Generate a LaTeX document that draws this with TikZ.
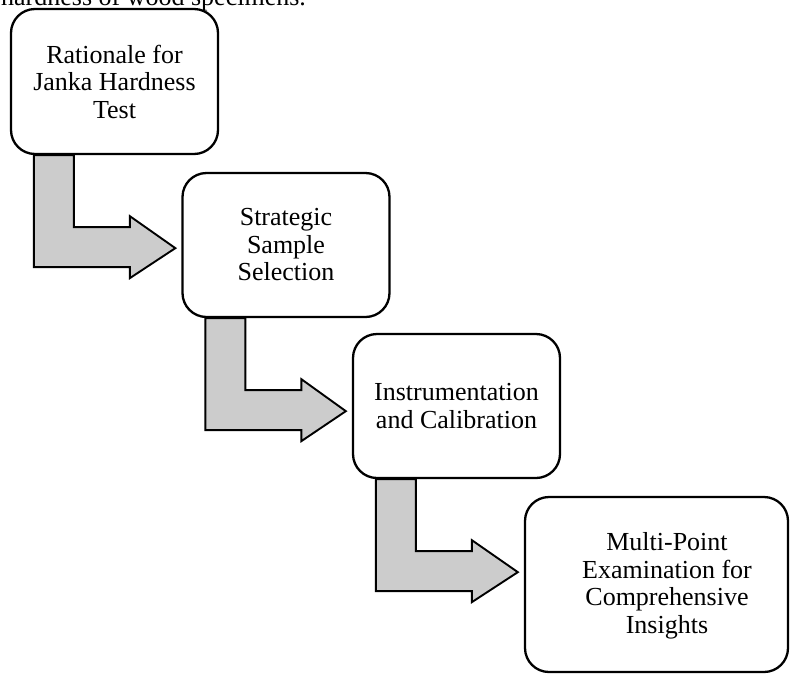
\documentclass[tikz,border=0pt]{standalone}
\usepackage{fontspec}
\setmainfont{Liberation Serif}
\usetikzlibrary{calc}
\tikzset{
  stepnode/.style={draw=black, line width=2.3pt, rounded corners=24pt, fill=white,
    align=center, inner sep=0pt, font=\fontsize{26}{27.5}\selectfont},
  txtnode/.style={align=center, inner sep=0pt, font=\fontsize{26}{27.5}\selectfont},
  bentarrow/.style={draw=black, line width=1.9pt, fill=black!20, line join=miter}
}
\begin{document}
\begin{tikzpicture}[x=1pt,y=-1pt]
\useasboundingbox (0,0) rectangle (790,673);
\node[anchor=base west, inner sep=0pt, font=\fontsize{26}{27.5}\selectfont] (cap) at (1,5) {hardness of wood specimens.};
\node[stepnode, minimum width=207pt, minimum height=145pt] (b1) at (114.5,81.5) {Rationale for\\Janka Hardness\\Test};
\node[stepnode, minimum width=207pt, minimum height=144pt] (b2) at (286,245) {Strategic\\Sample\\Selection};
\node[stepnode, minimum width=207pt, minimum height=144pt] (b3) at (456.5,406) {Instrumentation\\and Calibration};
\node[stepnode, minimum width=263pt, minimum height=175pt] (b4) at (656.5,584.5) {};
\node[txtnode] (t4) at (667,586) {Multi-Point\\Examination for\\Comprehensive\\Insights};
% arrows
\foreach \a/\b in {b1/b2,b2/b3,b3/b4}{
  \draw[bentarrow]
    ($(\a.south west)+(24,0)$) --
    ($(\a.south west)+(24,112)$) --
    ($(\a.south west)+(120,112)$) --
    ($(\a.south west)+(120,123)$) --
    ($(\b.west |- \a.south)+(-6,93)$) --
    ($(\a.south west)+(120,61)$) --
    ($(\a.south west)+(120,72)$) --
    ($(\a.south west)+(64,72)$) --
    ($(\a.south west)+(64,0)$) -- cycle;
}
\end{tikzpicture}
\end{document}
